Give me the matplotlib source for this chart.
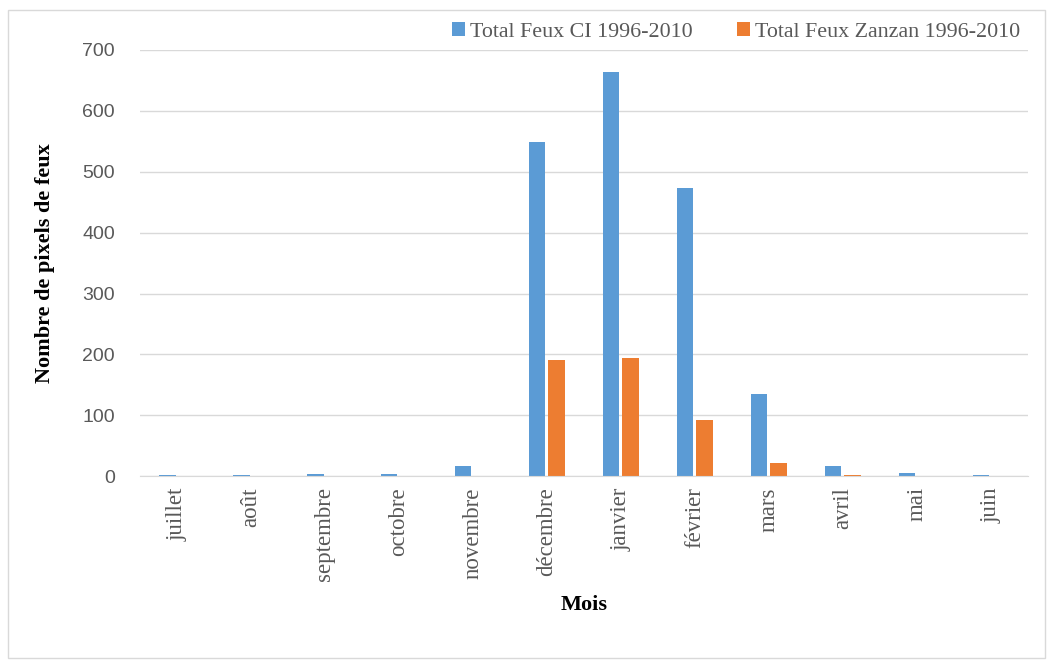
import matplotlib.pyplot as plt
import numpy as np
from matplotlib.patches import Rectangle

mois = ["juillet", "août", "septembre", "octobre", "novembre", "décembre",
        "janvier", "février", "mars", "avril", "mai", "juin"]
feux_ci = [2, 2, 4, 4, 16, 549, 663, 474, 135, 16, 6, 2]
feux_zanzan = [0, 0, 0, 0, 0, 190, 194, 93, 22, 2, 0, 0]

blue = "#5b9bd5"
orange = "#ed7d31"
grey = "#595959"

fig = plt.figure(figsize=(10.53, 6.66), dpi=100)
ax = fig.add_axes([0.133, 0.285, 0.843, 0.64])

x = np.arange(len(mois))
w = 0.22
ax.bar(x - 0.13, feux_ci, w, color=blue, label="Total Feux CI 1996-2010")
ax.bar(x + 0.13, feux_zanzan, w, color=orange, label="Total Feux Zanzan 1996-2010")

ax.set_xlim(-0.5, len(mois) - 0.5)
ax.set_ylim(0, 700)
ax.set_yticks(np.arange(0, 701, 100))
ax.yaxis.grid(True, color="#d9d9d9", linewidth=1)
ax.set_axisbelow(True)
for s in ["top", "right", "left"]:
    ax.spines[s].set_visible(False)
ax.spines["bottom"].set_color("#d9d9d9")

ax.set_xticks(x)
ax.set_xticklabels(mois, rotation=90, fontfamily="Liberation Serif",
                   fontsize=16.5, color=grey)
ax.tick_params(axis="x", length=0, pad=8)
ax.tick_params(axis="y", length=0, pad=18, labelsize=14, labelcolor=grey)
for lab in ax.get_yticklabels():
    lab.set_fontfamily("Liberation Sans")

ax.set_xlabel("Mois", fontfamily="Liberation Serif", fontweight="bold",
              fontsize=16, labelpad=10)
ax.set_ylabel("Nombre de pixels de feux", fontfamily="Liberation Serif",
              fontweight="bold", fontsize=16, labelpad=20)

leg = fig.legend(loc="center right", bbox_to_anchor=(0.988, 1 - 32 / 666), ncol=2,
                 frameon=False, handlelength=0.6, handleheight=0.6,
                 handletextpad=0.25, columnspacing=2.0,
                 prop={"family": "Liberation Serif", "size": 15.8})
for t in leg.get_texts():
    t.set_color(grey)

# light frame around the whole chart
fig.patches.append(Rectangle((0.008, 0.012), 0.984, 0.973, transform=fig.transFigure,
                             fill=False, edgecolor="#d9d9d9", linewidth=1))

fig.savefig("out.png", dpi=100)
